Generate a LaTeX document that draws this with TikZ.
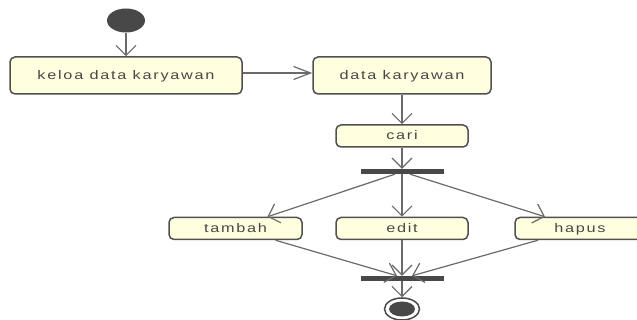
\documentclass[tikz,border=0pt]{standalone}
\usepackage{fontspec}
\newfontfamily\umlfont[FakeStretch=1.3,LetterSpace=14]{Liberation Sans}
\usetikzlibrary{arrows.meta,shapes.geometric}
\definecolor{actfill}{HTML}{FFFFE0}
\definecolor{actline}{HTML}{505050}
\definecolor{flowline}{HTML}{6A6A6A}
\definecolor{bardark}{HTML}{484848}
\begin{document}
\begin{tikzpicture}[x=1pt,y=1pt,
    act/.style={draw=actline, line width=1.5pt, fill=actfill, rounded corners=5pt,
      minimum height=22pt, inner sep=0pt, text=black!72, text height=9pt, text depth=1.5pt,
      font=\umlfont\fontsize{12.5}{15}\selectfont},
    syncbar/.style={fill=bardark, minimum width=83pt, minimum height=5pt, inner sep=0pt},
    flow/.style={draw=flowline, line width=1.2pt, -{Straight Barb[length=10pt,width=20pt]}},
    hflow/.style={draw=flowline, line width=1.2pt, -{Straight Barb[length=17pt,width=13pt]}}]
  \useasboundingbox (0,0) rectangle (637,320);

  % start and end
  \node[ellipse, fill=bardark, minimum width=38pt, minimum height=24pt, inner sep=0pt] (start) at (126,299.5) {};
  \node[ellipse, draw=bardark, line width=1.5pt, minimum width=35pt, minimum height=22pt, inner sep=0pt] (end) at (402,11) {};
  \fill[bardark] (end.center) ellipse [x radius=13, y radius=7.5];

  % activities
  \node[act, minimum width=232pt, minimum height=37pt] (keloa) at (126,244.5) {keloa data karyawan};
  \node[act, minimum width=178pt, minimum height=37pt] (data) at (402,244.5) {data karyawan};
  \node[act, minimum width=132pt] (cari) at (402,184) {cari};
  \node[act, minimum width=133pt] (tambah) at (235.5,91.5) {tambah};
  \node[act, minimum width=132pt] (edit) at (402,91.5) {edit};
  \node[act, minimum width=130pt] (hapus) at (580,91.5) {hapus};

  \node[syncbar] (fork) at (402,148.5) {};
  \node[syncbar] (join) at (402,41.5) {};

  % flows
  \draw[flow] (start) -- (keloa);
  \draw[hflow] ([yshift=2.5pt]keloa.east) -- ([yshift=2.5pt]data.west);
  \foreach \a/\b in {data/cari, cari/fork, fork/edit, edit/join, join/end}
    \draw[flow] (\a) -- (\b);
  \draw[flow] ([xshift=-7pt]fork.south) -- ([xshift=32pt]tambah.north);
  \draw[flow] ([xshift=8pt]fork.south) -- ([xshift=-35pt]hapus.north);
  \draw[flow] ([xshift=40pt]tambah.south) -- ([xshift=-5pt]join.north);
  \draw[flow] ([xshift=-42pt]hapus.south) -- ([xshift=10pt]join.north);
\end{tikzpicture}
\end{document}
